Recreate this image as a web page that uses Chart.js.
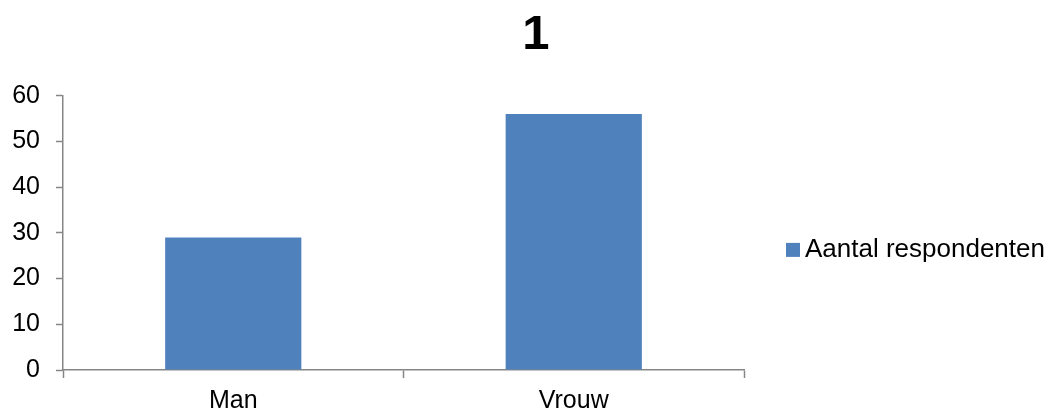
<!DOCTYPE html>
<html>
<head>
<meta charset="utf-8">
<script src="https://cdn.jsdelivr.net/npm/chart.js@4/dist/chart.umd.min.js"></script>
<style>
  body { margin: 0; background: #fff; }
  #wrap { width: 1052px; height: 411px; }
</style>
</head>
<body>
<div id="wrap"><canvas id="chart"></canvas></div>
<script>
const categories = ["Man", "Vrouw"];
const respondents = [29, 56];
const seriesLabel = "Aantal respondenten";
const chartTitle = "1";
const yTicks = [0, 10, 20, 30, 40, 50, 60];

Chart.defaults.font.family = "'Liberation Sans', Arial, sans-serif";
Chart.defaults.color = "#000";

const axisGray = "#868686";
const barBlue = "#4F81BD";

// simple Excel-like legend drawn to the right of the plot
const sideLegend = {
  id: "sideLegend",
  afterDraw(chart) {
    const { ctx, chartArea } = chart;
    const ds = chart.data.datasets[0];
    const x = chartArea.right + 42;
    const y = (chartArea.top + chartArea.bottom) / 2 + 17;
    ctx.save();
    ctx.fillStyle = ds.backgroundColor;
    ctx.fillRect(x, y - 7, 14, 14);
    ctx.fillStyle = "#000";
    ctx.font = "26px 'Liberation Sans', Arial, sans-serif";
    ctx.textBaseline = "middle";
    ctx.fillText(ds.label, x + 19, y);
    ctx.restore();
  }
};

new Chart(document.getElementById("chart"), {
  type: "bar",
  data: {
    labels: categories,
    datasets: [
      {
        label: seriesLabel,
        data: respondents,
        backgroundColor: barBlue,
        borderWidth: 0,
        categoryPercentage: 0.8,
        barPercentage: 0.5
      }
    ]
  },
  options: {
    responsive: true,
    maintainAspectRatio: false,
    animation: false,
    layout: { padding: { left: 0, right: -20, top: 0, bottom: 0 } },
    plugins: {
      title: {
        display: true,
        text: chartTitle,
        color: "#000",
        font: { size: 49, weight: "bold" },
        padding: { top: 6, bottom: 31 }
      },
      legend: { display: false },
      tooltip: { enabled: false }
    },
    scales: {
      x: {
        afterFit: s => { s.height = 41; },
        grid: {
          display: true,
          offset: true,
          drawOnChartArea: false,
          drawTicks: true,
          tickLength: 8,
          tickWidth: 1.5,
          tickColor: axisGray
        },
        border: { color: axisGray, width: 1.5 },
        ticks: { color: "#000", padding: 8, font: { size: 25 } }
      },
      y: {
        min: yTicks[0],
        max: yTicks[yTicks.length - 1],
        afterBuildTicks: axis => { axis.ticks = yTicks.map(v => ({ value: v })); },
        afterFit: s => { s.width = 63; },
        grid: {
          display: true,
          drawOnChartArea: false,
          drawTicks: true,
          tickLength: 7,
          tickWidth: 1.5,
          tickColor: axisGray
        },
        border: { color: axisGray, width: 1.5 },
        ticks: { color: "#000", padding: 16, font: { size: 25 } }
      },
      // empty right-hand axis that only reserves room for the legend
      legendSpace: {
        type: "linear",
        position: "right",
        display: true,
        afterFit: s => { s.width = 328; },
        grid: { display: false },
        border: { display: false },
        ticks: { display: false }
      }
    }
  },
  plugins: [sideLegend]
});
</script>
</body>
</html>
